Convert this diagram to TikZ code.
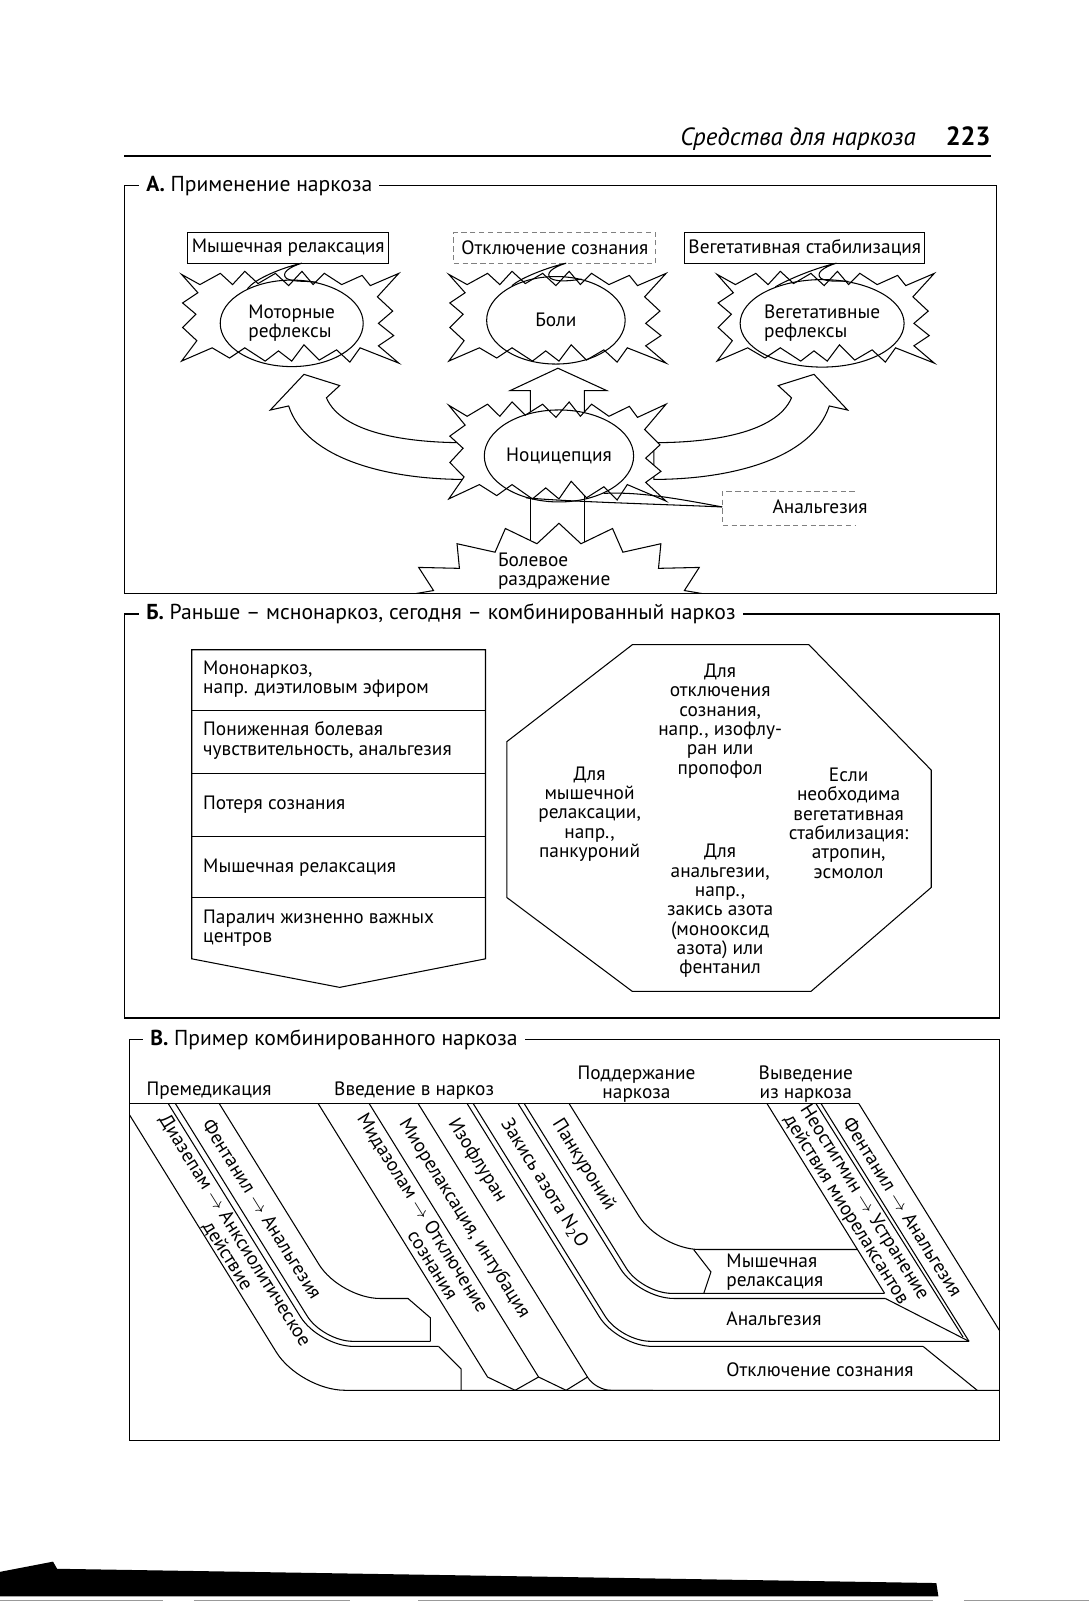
\documentclass[tikz,border=0pt]{standalone}
\usepackage{fontspec}
\setmainfont{PT Sans}
\usetikzlibrary{shapes.geometric}
\tikzset{
  >=latex,
  every node/.style={font=\fontsize{11}{11}\selectfont, inner sep=1pt},
  rahmen/.style={line width=0.8pt},
  titel/.style={font=\fontsize{12.3}{14}\selectfont, fill=white, anchor=west, inner xsep=4pt, inner ysep=1pt},
  kasten/.style={draw, minimum height=0.61cm, inner sep=2pt},
  strichlinie/.style={draw=black!50, dash pattern=on 3pt off 2pt, line width=0.5pt},
  oval/.style={ellipse, draw, inner sep=0pt},
  schraeg/.style={rotate=-58, align=left, anchor=west}
}
\newcommand{\pfeil}{$\rightarrow$}
% Umriss eines Zackensterns um (0,0)
\def\sternumriss{(-105,-46) -- (-87,-36) -- (-67,-47) -- (-55,-36) -- (-43,-49) -- (-30,-37)
  -- (-13,-47) -- (0,-35) -- (13,-49) -- (24,-36) -- (35,-47) -- (52,-36) -- (72,-45)
  -- (80,-35) -- (108,-47) -- (87,-24) -- (102,-10) -- (88,2) -- (103,14) -- (88,24)
  -- (108,41) -- (70,26) -- (60,40) -- (47,28) -- (30,38) -- (15,23) -- (3,39)
  -- (-10,29) -- (-23,39) -- (-43,26) -- (-58,36) -- (-75,26) -- (-105,39) -- (-90,19)
  -- (-104,6) -- (-91,-7) -- (-104,-18) -- (-89,-28) -- cycle}

\begin{document}
\begin{tikzpicture}[x=0.0204cm, y=-0.0204cm, line width=0.6pt]
\fill[white] (0,0) rectangle (1068.6,1569.6);
\useasboundingbox (0,0) rectangle (1068.6,1569.6);

% Kopfzeile
\node[font=\itshape\fontsize{14.2}{16}\selectfont, anchor=base east] (kopf) at (900,143) {Средства для наркоза};
\node[font=\bfseries\fontsize{15}{17}\selectfont, anchor=base west] (seite) at (925,143) {223};
\draw[line width=1.2pt] (122,153) -- (972,153);

% ---------- A ----------
% Blockpfeile
\draw[fill=white] (455,470) .. controls (380,470) and (300,450) .. (283,398)
  -- (265,402) -- (298,367) -- (333,378) -- (320,390)
  .. controls (335,425) and (400,434) .. (455,434) -- cycle;
\draw[fill=white] (641,470) .. controls (716,470) and (796,450) .. (813,398)
  -- (831,402) -- (798,367) -- (763,378) -- (776,390)
  .. controls (761,425) and (696,434) .. (641,434) -- cycle;
\draw[fill=white] (520,425) -- (520,383) -- (500,383) -- (547,361) -- (595,383) -- (573,383) -- (573,425);
\draw (520,470) -- (520,545) (573,470) -- (573,545);

% Sterne
\draw[fill=white, shift={(283,315)}] \sternumriss;
\draw[fill=white, shift={(545,315)}] \sternumriss;
\draw[fill=white, shift={(808,315)}] \sternumriss;
\draw[fill=white, shift={(545,447)}, yscale=1.08] \sternumriss;
\begin{scope}
  \clip (122,182) rectangle (977,582);
  \draw[fill=white] plot[samples at={0,...,39}]
    ({548+(138+32*(1-mod(\x,2)))*cos(9*\x)}, {618+(86+19*(1-mod(\x,2)))*sin(9*\x)}) -- cycle;
\end{scope}

% Ovale
\node[oval, minimum width=2.86cm, minimum height=1.73cm, align=left] (motor) at (286,317) {Моторные\\рефлексы};
\node[oval, minimum width=2.77cm, minimum height=1.75cm] (boli) at (545,314) {Боли};
\node[oval, minimum width=2.77cm, minimum height=1.75cm, align=left] (veg) at (806,317) {Вегетативные\\рефлексы};
\node[oval, minimum width=2.77cm, minimum height=1.84cm] (nozi) at (548,447) {Ноцицепция};
\node[align=left, anchor=west] (reiz) at (486,560) {Болевое\\раздражение};

% Kaesten oben
\node[kasten, minimum width=4.02cm] (muskel) at (282.5,243) {Мышечная релаксация};
\node[kasten, strichlinie, minimum width=4.04cm] (bewusst) at (544,243) {Отключение сознания};
\node[kasten, minimum width=4.73cm] (vegstab) at (789,243) {Вегетативная стабилизация};

\coordinate (spitzeM) at (296,258);
\coordinate (spitzeB) at (555,258);
\coordinate (spitzeV) at (820,258);
\draw (motor.142) .. controls (250,273) and (278,262) .. (spitzeM)
  .. controls (283,262) and (275,268) .. (281,273) .. controls (288,277) and (302,275) .. (motor.58);
\draw (boli.142) .. controls (509,273) and (537,262) .. (spitzeB)
  .. controls (542,262) and (534,268) .. (540,273) .. controls (547,277) and (561,275) .. (boli.58);
\draw (veg.142) .. controls (774,273) and (802,262) .. (spitzeV)
  .. controls (807,262) and (799,268) .. (805,273) .. controls (812,277) and (826,275) .. (veg.58);

% Analgesie
\node (analg) at (804,497) {Анальгезия};
\draw[strichlinie] (838,482) -- (708,482) -- (708,515) -- (838,515);
\coordinate (analgspitze) at (708,497);
\draw (analgspitze) .. controls (640,494) and (560,492) .. (nozi.232);
\draw (analgspitze) .. controls (660,488) and (625,482) .. (nozi.320);

% ---------- B ----------
\draw (188,940) -- (188,637) -- (476,637) -- (476,940) -- (333,968) -- cycle;
\foreach \y in {697,758,820,880} \draw (188,\y) -- (476,\y);
\node[anchor=west, align=left] (mono) at (197,666) {Мононаркоз,\\напр. диэтиловым эфиром};
\node[anchor=west, align=left] (schmerz) at (197,726) {Пониженная болевая\\чувствительность, анальгезия};
\node[anchor=west] (verlust) at (197,789) {Потеря сознания};
\node[anchor=west] (relax) at (197,851) {Мышечная релаксация};
\node[anchor=west, align=left] (paral) at (197,910) {Паралич жизненно важных\\центров};

\draw (620,632) -- (793,632) -- (913,755) -- (913,870) -- (795,972) -- (620,972) -- (497,880) -- (497,727) -- cycle;
\node[align=center] (okt1) at (706,707) {Для\\отключения\\сознания,\\напр., изофлу-\\ран или\\пропофол};
\node[align=center] (okt2) at (578,798) {Для\\мышечной\\релаксации,\\напр.,\\панкуроний};
\node[align=center] (okt3) at (832,807) {Если\\необходима\\вегетативная\\стабилизация:\\атропин,\\эсмолол};
\node[align=center] (okt4) at (706,893) {Для\\анальгезии,\\напр.,\\закись азота\\(монооксид\\азота) или\\фентанил};

% ---------- C ----------
\node (premed) at (205,1069) {Премедикация};
\node (einl) at (406,1069) {Введение в наркоз};
\node[align=center] (erhalt) at (624,1063) {Поддержание\\наркоза};
\node[align=center] (ausl) at (790,1063) {Выведение\\из наркоза};
\draw (127,1082) -- (842,1082);

% Praemedikation
\draw[rounded corners=0.9cm] (127,1093) -- (294,1363) -- (980,1363);
\draw[rounded corners=0.7cm] (165,1082) -- (312.6,1320) -- (430,1320);
\draw (430,1320) -- (452,1342) -- (452,1363);
\draw[rounded corners=0.6cm] (172,1082) -- (316.5,1315) -- (422,1315);
\draw (422,1315) -- (422,1292) -- (400,1273);
\draw[rounded corners=0.8cm] (215,1082) -- (333.4,1273) -- (400,1273);
% Einleitung
\draw (312,1082) -- (478,1350) -- (505,1363) -- (528,1350) -- (555,1363) -- (576,1350);
\draw (362,1082) -- (528,1350);
\draw[rounded corners=0.3cm] (410,1082) -- (584,1363) -- (640,1363);
\draw[rounded corners=0.7cm] (458,1082) -- (605.6,1320) -- (905,1320);
\draw (905,1320) -- (958,1363);
\draw[rounded corners=0.6cm] (464,1082) -- (608.5,1315) -- (950,1315);
\draw[rounded corners=0.7cm] (508,1082) -- (626.4,1273) -- (868,1273);
\draw (868,1273) -- (950,1315);
\draw[rounded corners=0.6cm] (514,1082) -- (629.3,1268) -- (867,1268);
\draw[rounded corners=0.8cm] (558,1082) -- (646.7,1225) -- (841,1225);
\draw (680,1225) -- (697,1247) -- (690,1268);
% Ausleitung
\draw (752,1082) -- (867.3,1268);
\draw (800,1082) -- (944.2,1310.9);
\draw (805,1082) -- (950,1315);
\draw (842,1082) -- (980,1304.6);

% schraege Beschriftung
\node[schraeg] (diaz) at (151,1098) {Диазепам \pfeil{} Анксиолитическое\\\phantom{Диазепам \pfeil{} }действие};
\node[schraeg] (fent1) at (202,1097) {Фентанил \pfeil{} Анальгезия};
\node[schraeg] (mida) at (345,1097) {Мидазолам \pfeil{} Отключение\\\phantom{Мидазолам \pfeil{} }сознания};
\node[schraeg] (mio) at (394,1097) {Миорелаксация, интубация};
\node[schraeg] (iso) at (442,1097) {Изофлуран};
\node[schraeg] (lach) at (494,1097) {Закись азота N\textsubscript{2}O};
\node[schraeg] (panku) at (544,1097) {Панкуроний};
\node[schraeg] (neo) at (779,1088) {Неостигмин \pfeil{} Устранение\\действия миорелаксантов};
\node[schraeg] (fent2) at (830,1095) {Фентанил \pfeil{} Анальгезия};

\node[anchor=west, align=left] (bandM) at (710,1247) {Мышечная\\релаксация};
\node[anchor=west] (bandA) at (710,1293) {Анальгезия};
\node[anchor=west] (bandB) at (710,1343) {Отключение сознания};

% Rahmen und Titel
\draw[rahmen] (122,182) rectangle (977,582);
\node[titel] (titelA) at (136,182) {\textbf{А.} Применение наркоза};
\draw[rahmen] (122,602) rectangle (980,998);
\node[titel] (titelB) at (136,602) {\textbf{Б.} Раньше – мснонаркоз, сегодня – комбинированный наркоз};
\draw[rahmen] (127,1019) rectangle (980,1412);
\node[titel] (titelC) at (140,1019) {\textbf{В.} Пример комбинированного наркоза};

% Scanrand unten
\fill (0,1541) -- (52,1531) -- (56,1538) -- (918,1552) -- (920,1565) -- (0,1565) -- cycle;
\draw[black!40, line width=0.4pt] (0,1568.5) -- (160,1568.5) (190,1568.5) -- (343,1568.5) (410,1568.5) -- (915,1568.5) (945,1568.5) -- (1068,1568.5);
\end{tikzpicture}
\end{document}
